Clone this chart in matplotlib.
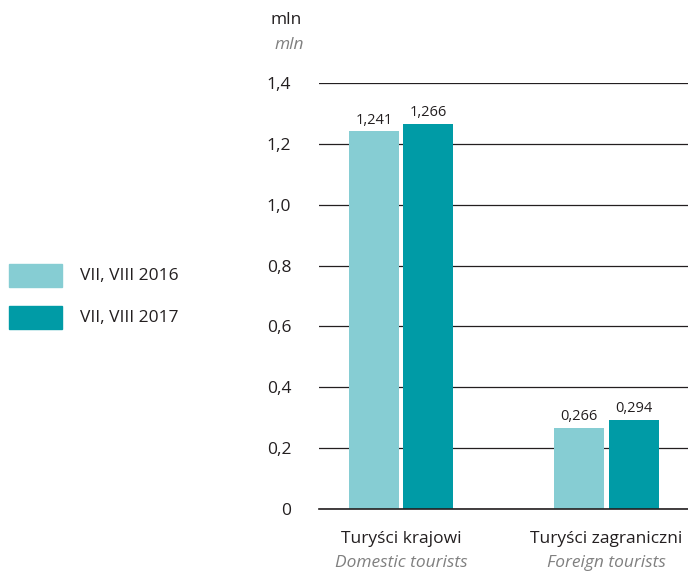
import numpy as np
import matplotlib.pyplot as plt
from matplotlib.patches import Rectangle

categories = ['Turyści krajowi', 'Turyści zagraniczni']
categories_en = ['Domestic tourists', 'Foreign tourists']
series_names = ['VII, VIII 2016', 'VII, VIII 2017']
values_2016 = [1.241, 0.266]
values_2017 = [1.266, 0.294]
yticks = [0, 0.2, 0.4, 0.6, 0.8, 1.0, 1.2, 1.4]

c16 = '#86CDD3'
c17 = '#009BA6'
txt = '#231F20'
grey = '#808080'

plt.rcParams['font.family'] = ['Open Sans', 'DejaVu Sans']

fig = plt.figure(figsize=(6.88, 5.73), dpi=100)
ax = fig.add_axes([319/688, 1-509/573, 369/688, (509-83)/573])

x = np.arange(len(categories))
w = 0.243
off = 0.132
b1 = ax.bar(x - off, values_2016, w, color=c16, zorder=3)
b2 = ax.bar(x + off, values_2017, w, color=c17, zorder=3)

for bars, vals in ((b1, values_2016), (b2, values_2017)):
    for b, v in zip(bars, vals):
        ax.text(b.get_x() + b.get_width()/2, v + 0.012, '{:.3f}'.format(v).replace('.', ','),
                ha='center', va='bottom', fontsize=10.5, color=txt)

ax.set_xlim(-0.399, 1.397)
ax.set_ylim(0, 1.4)
ax.set_yticks(yticks)
ax.set_yticklabels(['0' if t == 0 else '{:.1f}'.format(t).replace('.', ',') for t in yticks],
                   fontsize=12.5, color=txt)
ax.yaxis.grid(True, color=txt, linewidth=0.9, zorder=0)
ax.tick_params(axis='y', length=0, pad=20)
ax.set_xticks([])
for s in ['top', 'right', 'left']:
    ax.spines[s].set_visible(False)
ax.spines['bottom'].set_color(txt)
ax.spines['bottom'].set_linewidth(1.2)
ax.spines['bottom'].set_zorder(4)

for xi, pl, en in zip(x, categories, categories_en):
    ax.annotate(pl, (xi, 0), xytext=(0, -16), textcoords='offset points',
                ha='center', va='top', fontsize=12.5, color=txt)
    ax.annotate(en, (xi, 0), xytext=(0, -33), textcoords='offset points',
                ha='center', va='top', fontsize=12.5, color=grey, style='italic')

fig.text(302/688, 1-20/573, 'mln', ha='right', va='center', fontsize=12.5, color=txt)
fig.text(304/688, 1-45/573, 'mln', ha='right', va='center', fontsize=12.5,
         color=grey, style='italic')

# legend
for i, (name, col) in enumerate(zip(series_names, [c16, c17])):
    y0 = 1 - (287 + i*42)/573
    fig.patches.append(Rectangle((9/688, y0), 53/688, 23/573, transform=fig.transFigure,
                                 color=col, figure=fig))
    fig.text(80/688, y0 + 11.5/573, name, ha='left', va='center', fontsize=12.5, color=txt)

fig.savefig('out.png', dpi=100)
